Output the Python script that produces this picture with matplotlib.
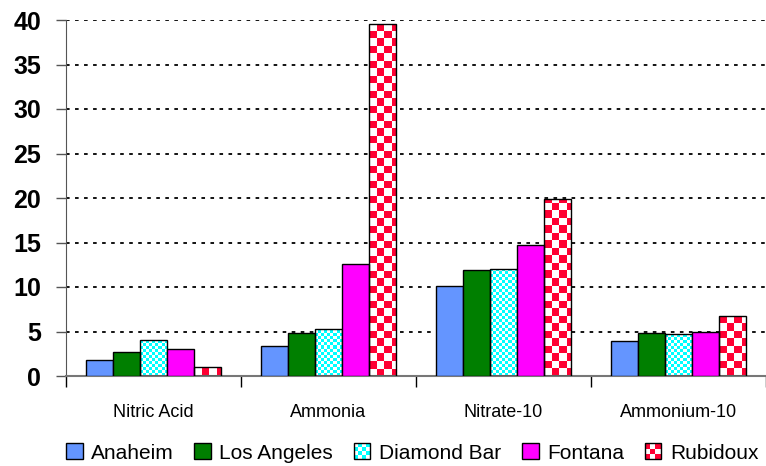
import numpy as np
import matplotlib.pyplot as plt
from matplotlib.colors import ListedColormap
from matplotlib.patches import Patch, Rectangle
from matplotlib.legend_handler import HandlerBase

plt.rcParams['font.family'] = ['Liberation Sans', 'DejaVu Sans']

categories = ['Nitric Acid', 'Ammonia', 'Nitrate-10', 'Ammonium-10']
sites = ['Anaheim', 'Los Angeles', 'Diamond Bar', 'Fontana', 'Rubidoux']
anaheim = [1.8, 3.4, 10.1, 3.9]
los_angeles = [2.7, 4.8, 11.9, 4.8]
diamond_bar = [4.0, 5.3, 12.0, 4.7]
fontana = [3.0, 12.6, 14.7, 5.0]
rubidoux = [1.0, 39.5, 19.9, 6.7]

series = [anaheim, los_angeles, diamond_bar, fontana, rubidoux]
colors = ['#6495FF', '#007F00', '#00FFFF', '#FF00FF', '#FF0033']
checker_px = [None, None, 3, None, 7.5]

fig = plt.figure(figsize=(7.66, 4.66), dpi=100)
ax = fig.add_axes([66 / 766, 1 - 376 / 466, 700 / 766, 356 / 466])

x = np.arange(len(categories))
w = 0.155
ax.set_xlim(-0.5, 3.48)
ax.set_ylim(0, 40)
ax.set_autoscale_on(False)


def add_checker(bar, color, cell):
    x0, y0 = bar.get_x(), bar.get_y()
    bw, bh = bar.get_width(), bar.get_height()
    p0 = ax.transData.transform((x0, y0))
    p1 = ax.transData.transform((x0 + bw, y0 + bh))
    nx = int(np.ceil((p1[0] - p0[0]) / cell))
    ny = int(np.ceil((p1[1] - p0[1]) / cell)) + 1
    dx = bw / ((p1[0] - p0[0]) / cell)
    dy = bh / ((p1[1] - p0[1]) / cell)
    ii, jj = np.indices((ny, nx))
    arr = (ii + jj) % 2
    im = ax.imshow(arr, cmap=ListedColormap(['white', color]), origin='lower',
                   extent=(x0, x0 + nx * dx, y0, y0 + ny * dy),
                   interpolation='nearest', aspect='auto', zorder=2.5)
    im.set_clip_path(bar)


for i, (vals, col, cell) in enumerate(zip(series, colors, checker_px)):
    pos = x - 2 * w + i * w
    if cell is None:
        ax.bar(pos, vals, w, color=col, edgecolor='black', lw=1, zorder=3)
    else:
        bars = ax.bar(pos, vals, w, facecolor='none', edgecolor='black', lw=1, zorder=3)
        for b in bars:
            add_checker(b, col, cell)

ax.set_xlim(-0.5, 3.48)
ax.set_ylim(0, 40)

ax.set_yticks(np.arange(0, 41, 5))
ax.yaxis.grid(True, linestyle=(0, (2, 3)), color='black', lw=1.3)
ax.set_axisbelow(True)
for lab in ax.get_yticklabels():
    lab.set_fontweight('bold')
ax.tick_params(axis='y', labelsize=18, length=7, width=1, color='#555555', pad=11)

ax.set_xticks([-0.5, 0.5, 1.5, 2.5, 3.5])
ax.set_xticklabels([])
ax.set_xticks(x, minor=True)
ax.set_xticklabels(categories, minor=True, fontsize=13)
ax.tick_params(axis='x', which='major', length=8, width=1, direction='out')
ax.tick_params(axis='x', which='minor', length=0, pad=20)

for s in ['top', 'right']:
    ax.spines[s].set_visible(False)
ax.spines['left'].set_color('#555555')
ax.spines['bottom'].set_color('#777777')
ax.spines['bottom'].set_linewidth(1.5)


class HandlerChecker(HandlerBase):
    def __init__(self, color, n):
        super().__init__()
        self.color = color
        self.n = n

    def create_artists(self, legend, orig_handle, xdescent, ydescent, width,
                       height, fontsize, trans):
        s = height
        x0, y0 = -xdescent, -ydescent
        arts = [Rectangle((x0, y0), s, s, facecolor='white', edgecolor='none', transform=trans)]
        c = s / self.n
        for a in range(self.n):
            for b in range(self.n):
                if (a + b) % 2 == 0:
                    arts.append(Rectangle((x0 + a * c, y0 + b * c), c, c,
                                          facecolor=self.color, edgecolor='none', transform=trans))
        arts.append(Rectangle((x0, y0), s, s, facecolor='none', edgecolor='black', lw=1, transform=trans))
        return arts


handles = []
hmap = {}
for name, col, cell in zip(sites, colors, checker_px):
    h = Patch(facecolor=col, edgecolor='black', lw=1, label=name)
    handles.append(h)
    if cell is not None:
        hmap[h] = HandlerChecker(col, 4 if cell < 5 else 3)

fig.legend(handles=handles, handler_map=hmap, loc='center', bbox_to_anchor=(0.538, 1 - 453 / 466),
           ncol=5, frameon=False, handlelength=0.8, handleheight=0.8,
           handletextpad=0.4, columnspacing=1.0, prop={'size': 15})

fig.savefig('out.png', dpi=100)
